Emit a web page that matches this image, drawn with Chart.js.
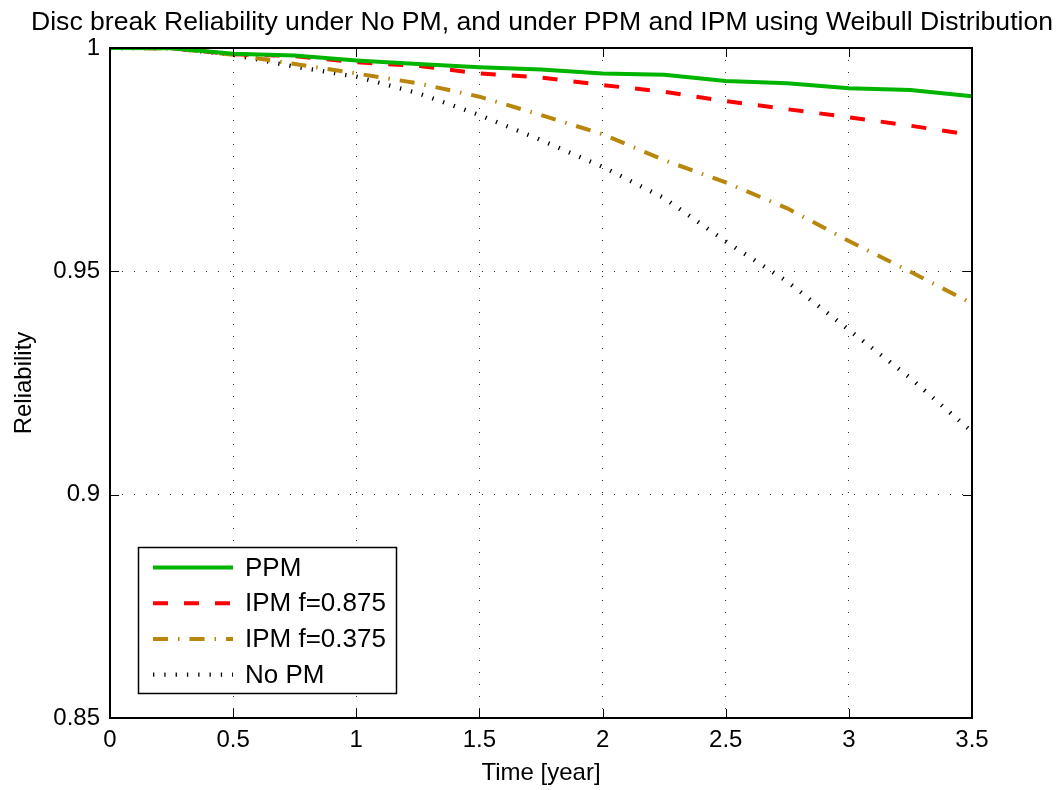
<!DOCTYPE html>
<html>
<head>
<meta charset="utf-8">
<title>Disc break Reliability</title>
<script src="https://cdn.jsdelivr.net/npm/chart.js@4.4.1/dist/chart.umd.min.js"></script>
<style>
  html, body { margin: 0; padding: 0; background: #fff; }
  #wrap { width: 1059px; height: 790px; }
</style>
</head>
<body>
<div id="wrap"><canvas id="reliabilityChart" width="1059" height="790"></canvas></div>
<script>
// Time in years and reliability of each maintenance policy
const years  = [0, 0.25, 0.5, 0.75, 1, 1.25, 1.5, 1.75, 2, 2.25, 2.5, 2.75, 3, 3.25, 3.5];
const ppm    = [1, 0.99995, 0.9987, 0.9983, 0.9972, 0.9964, 0.9957, 0.9952, 0.9943, 0.9940, 0.9926, 0.9921, 0.9910, 0.9906, 0.9892];
const ipm875 = [1, 0.99995, 0.9986, 0.9982, 0.9968, 0.9960, 0.9943, 0.9934, 0.9917, 0.9902, 0.9881, 0.9863, 0.9845, 0.9826, 0.9805];
const ipm375 = [1, 0.99995, 0.9985, 0.9964, 0.9943, 0.9921, 0.9891, 0.9850, 0.9807, 0.9749, 0.9699, 0.9641, 0.9568, 0.9499, 0.9428];
const noPm   = [1, 0.99995, 0.9985, 0.9958, 0.9936, 0.9899, 0.9850, 0.9794, 0.9734, 0.9664, 0.9567, 0.9477, 0.9369, 0.9261, 0.9141];

const seriesLabels = ['PPM', 'IPM f=0.875', 'IPM f=0.375', 'No PM'];

const xTicks = [0, 0.5, 1, 1.5, 2, 2.5, 3, 3.5];
const xTickLabels = ['0', '0.5', '1', '1.5', '2', '2.5', '3', '3.5'];
const yTicks = [0.85, 0.9, 0.95, 1];
const yTickLabels = ['0.85', '0.9', '0.95', '1'];

const titleText = 'Disc break Reliability under No PM, and under PPM and IPM using Weibull Distribution';

const FONT = '"Liberation Sans", Arial, Helvetica, sans-serif';
Chart.defaults.font.family = FONT;
Chart.defaults.color = '#000';

function points(values) {
    return years.map((x, i) => ({ x: x, y: values[i] }));
}

// axes box with inward ticks on all four sides, title and legend
const framePlugin = {
    id: 'frame',
    afterDatasetsDraw(chart) {
        const { ctx, chartArea: a, scales } = chart;
        const tick = 9;
        ctx.save();
        ctx.strokeStyle = '#000';
        ctx.lineWidth = 1;
        ctx.setLineDash([]);
        ctx.beginPath();
        xTicks.forEach(v => {
            const px = Math.round(scales.x.getPixelForValue(v)) + 0.5;
            ctx.moveTo(px, a.bottom); ctx.lineTo(px, a.bottom - tick);
            ctx.moveTo(px, a.top); ctx.lineTo(px, a.top + tick);
        });
        yTicks.forEach(v => {
            const py = Math.round(scales.y.getPixelForValue(v)) + 0.5;
            ctx.moveTo(a.left, py); ctx.lineTo(a.left + tick, py);
            ctx.moveTo(a.right, py); ctx.lineTo(a.right - tick, py);
        });
        ctx.stroke();
        ctx.lineWidth = 2;
        ctx.strokeRect(a.left, a.top, a.right - a.left, a.bottom - a.top);
        ctx.restore();
    },
    afterDraw(chart) {
        const { ctx } = chart;
        ctx.save();

        // title, stretched slightly to span the figure
        ctx.font = '25px ' + FONT;
        ctx.fillStyle = '#000';
        ctx.textBaseline = 'alphabetic';
        ctx.textAlign = 'left';
        const w = ctx.measureText(titleText).width;
        const sx = 1022 / w;
        ctx.translate(31, 30);
        ctx.scale(sx, 1);
        ctx.fillText(titleText, 0, 0);
        ctx.setTransform(1, 0, 0, 1, 0, 0);

        // legend box
        const box = { x: 138.5, y: 547.5, w: 258, h: 146 };
        ctx.fillStyle = '#fff';
        ctx.fillRect(box.x, box.y, box.w, box.h);
        ctx.strokeStyle = '#000';
        ctx.lineWidth = 1.5;
        ctx.setLineDash([]);
        ctx.strokeRect(box.x, box.y, box.w, box.h);

        ctx.font = '26px ' + FONT;
        ctx.textBaseline = 'middle';
        chart.data.datasets.forEach((ds, i) => {
            const y = 567.5 + i * 35.7;
            ctx.beginPath();
            ctx.strokeStyle = ds.borderColor;
            ctx.lineWidth = ds.borderWidth;
            ctx.lineCap = 'butt';
            ctx.setLineDash(ds.borderDash || []);
            ctx.moveTo(153, y);
            ctx.lineTo(233, y);
            ctx.stroke();
            ctx.fillStyle = '#000';
            ctx.fillText(ds.label, 245, y + 1);
        });
        ctx.restore();
    }
};

const ctx = document.getElementById('reliabilityChart').getContext('2d');
new Chart(ctx, {
    type: 'line',
    data: {
        datasets: [
            {
                label: seriesLabels[0],
                data: points(ppm),
                borderColor: '#00b400',
                borderWidth: 4,
            },
            {
                label: seriesLabels[1],
                data: points(ipm875),
                borderColor: '#ff0000',
                borderWidth: 4,
                borderDash: [15, 16],
            },
            {
                label: seriesLabels[2],
                data: points(ipm375),
                borderColor: '#b8860b',
                borderWidth: 4,
                borderDash: [15, 10, 1.5, 10],
            },
            {
                label: seriesLabels[3],
                data: points(noPm),
                borderColor: '#000000',
                borderWidth: 4.3,
                borderDash: [1.3, 10],
            }
        ]
    },
    options: {
        responsive: false,
        devicePixelRatio: 1,
        animation: false,
        elements: {
            point: { radius: 0 },
            line: { tension: 0, fill: false, borderCapStyle: 'butt' }
        },
        layout: {
            padding: { top: 48, right: 87, bottom: 0, left: 0 }
        },
        plugins: {
            legend: { display: false },
            title: { display: false },
            tooltip: { enabled: false }
        },
        scales: {
            x: {
                type: 'linear',
                min: 0,
                max: 3.5,
                afterFit: s => { s.height = 72; },
                afterBuildTicks: s => { s.ticks = xTicks.map(v => ({ value: v })); },
                ticks: {
                    autoSkip: false,
                    maxRotation: 0,
                    padding: 8,
                    font: { size: 24 },
                    callback: (v, i) => xTickLabels[i]
                },
                grid: { color: '#333', lineWidth: 1, drawTicks: false },
                border: { display: false, dash: [1, 11] },
                title: {
                    display: true,
                    text: 'Time [year]',
                    font: { size: 24 },
                    padding: { top: 0, bottom: 2 }
                }
            },
            y: {
                type: 'linear',
                min: 0.85,
                max: 1,
                afterFit: s => { s.width = 110; },
                afterBuildTicks: s => { s.ticks = yTicks.map(v => ({ value: v })); },
                ticks: {
                    autoSkip: false,
                    padding: 10,
                    font: { size: 24 },
                    callback: (v, i) => yTickLabels[i]
                },
                grid: { color: '#333', lineWidth: 1, drawTicks: false },
                border: { display: false, dash: [1, 11] },
                title: {
                    display: true,
                    text: 'Reliability',
                    font: { size: 24 },
                    padding: { top: 10, bottom: 0 }
                }
            }
        }
    },
    plugins: [framePlugin]
});
</script>
</body>
</html>
